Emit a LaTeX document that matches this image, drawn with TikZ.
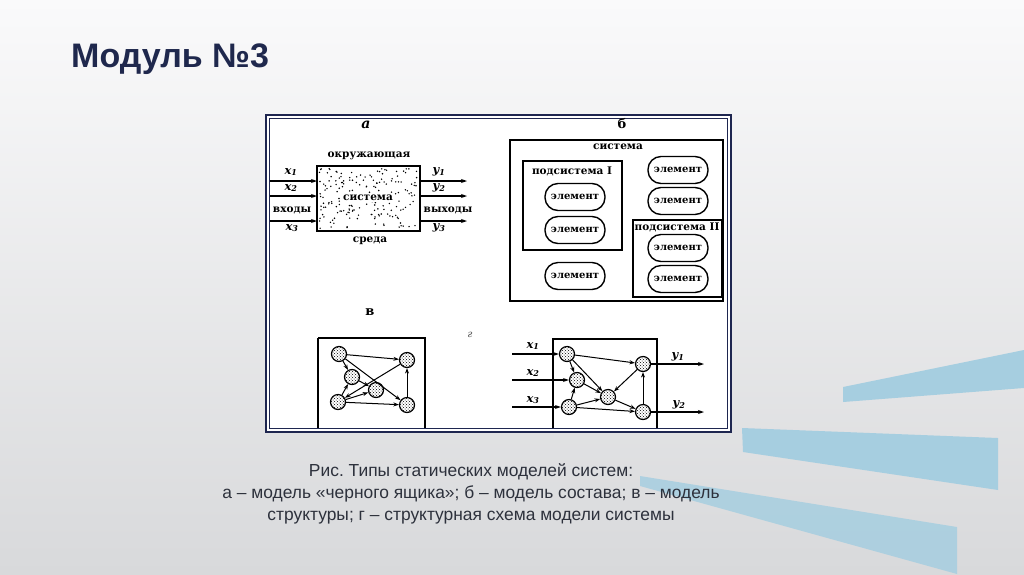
\documentclass[tikz,border=0pt]{standalone}
\usepackage{fontspec}
\setmainfont{Liberation Sans}
\newfontfamily\scanfont{DejaVu Serif}
\usetikzlibrary{arrows.meta,patterns}
\frenchspacing
\definecolor{navy}{RGB}{30,38,80}
\definecolor{titlecol}{RGB}{31,40,77}
\definecolor{capcol}{RGB}{45,49,60}
\definecolor{stripe}{RGB}{166,206,224}
\definecolor{bgtop}{RGB}{250,250,251}
\definecolor{bgbot}{RGB}{216,217,219}
\tikzset{
  elem/.style={draw, line width=1.4pt, rounded corners=13pt, minimum width=60pt, minimum height=27pt, inner sep=0pt, fill=white, font=\scanfont\bfseries\fontsize{10}{11}\selectfont},
  sbox/.style={draw, line width=1.3pt},
  lbl/.style={font=\scanfont\bfseries\fontsize{10.5}{11}\selectfont, inner sep=1pt},
  var/.style={font=\scanfont\itshape\bfseries\fontsize{11.5}{12}\selectfont, inner sep=0pt},
  gnode/.style={circle, draw, line width=1.2pt, minimum size=15pt, inner sep=0pt, pattern=crosshatch dots},
  garrow/.style={-{Stealth[length=5.5pt,width=4pt]}, line width=1pt},
  iarrow/.style={-{Stealth[length=6pt,width=4pt]}, line width=1.3pt},
  panel/.style={font=\scanfont\bfseries\fontsize{13}{14}\selectfont},
}
\begin{document}
\begin{tikzpicture}[x=1pt,y=-1pt]
\useasboundingbox (0,0) rectangle (1024,574);
% background
\shade[top color=bgtop, bottom color=bgbot] (0,0) rectangle (1024,574);
% stripes
\fill[stripe] (843,387) -- (1024,350) -- (1024,388) -- (843,402) -- cycle;
\fill[stripe] (742,428) -- (998,438) -- (998,490) -- (743,452) -- cycle;
\fill[stripe, opacity=0.85] (640,476) -- (957,527) -- (957,574) -- (640,486) -- cycle;
% title
\node[anchor=base west, font=\bfseries\fontsize{34}{38}\selectfont, text=titlecol, inner sep=0pt] (title) at (71,67) {Модуль №3};
% frame
\fill[white] (266,115) rectangle (731,432);
\draw[navy, line width=2.6pt] (266,115) rectangle (731,432);
\draw[navy, line width=1pt] (269.5,118.5) rectangle (727.5,428.5);

% ---------------- panel a
\node[panel, font=\scanfont\itshape\bfseries\fontsize{14}{15}\selectfont] (la) at (366,125) {а};
\draw[line width=1.4pt] (317,166) rectangle (420,231);
\pgfmathsetseed{11}
\foreach \i in {1,...,190}{
  \pgfmathsetmacro\rx{319.5+rnd*98}
  \pgfmathsetmacro\ry{168.5+rnd*60}
  \fill (\rx,\ry) circle (0.8);
}
\node (sys) [draw=none, line width=0pt, minimum width=103pt, minimum height=65pt] at (368.5,198.5) {};
\node[lbl, fill=white] (systxt) at (368,198) {система};
\node[lbl] (okr) at (369,156) {окружающая};
\node[lbl] (sreda) at (370,241) {среда};
\coordinate (i1) at (270,181);
\coordinate (i2) at (270,196);
\coordinate (i3) at (270,221);
\draw[iarrow] (i1) -- (i1 -| sys.west);
\draw[iarrow] (i2) -- (i2 -| sys.west);
\draw[iarrow] (i3) -- (i3 -| sys.west);
\coordinate (o1) at (467,181);
\coordinate (o2) at (467,196);
\coordinate (o3) at (467,221);
\draw[iarrow] (o1 -| sys.east) -- (o1);
\draw[iarrow] (o2 -| sys.east) -- (o2);
\draw[iarrow] (o3 -| sys.east) -- (o3);
\node[var] (x1) at (291,172) {x\textsubscript{1}};
\node[var] (x2) at (291,188) {x\textsubscript{2}};
\node[lbl] (vh) at (292,210) {входы};
\node[var] (x3) at (292,228) {x\textsubscript{3}};
\node[var] (y1) at (439,172) {y\textsubscript{1}};
\node[var] (y2) at (439,188) {y\textsubscript{2}};
\node[lbl] (vyh) at (448,210) {выходы};
\node[var] (y3) at (439,228) {y\textsubscript{3}};

% ---------------- panel b
\node[panel] (lb) at (622,124) {б};
\draw[sbox] (510,140) rectangle (723,301);
\node[lbl] (bsys) at (618,147) {система};
\draw[sbox] (523,161) rectangle (622,250);
\node[lbl] (ps1) at (572,171) {подсистема I};
\node[elem] (e1) at (575,197) {элемент};
\node[elem] (e2) at (575,230) {элемент};
\node[elem] (e3) at (678,170) {элемент};
\node[elem] (e4) at (678,201) {элемент};
\draw[sbox] (633,220) rectangle (722,297);
\node[lbl] (ps2) at (677,227) {подсистема II};
\node[elem] (e5) at (678,248) {элемент};
\node[elem] (e6) at (678,279) {элемент};
\node[elem] (e7) at (575,276) {элемент};

% ---------------- panel v
\node[panel] (lv) at (370,312) {в};
\draw[line width=1.2pt] (318,338) -- (318,428) (318,338) -- (425,338) -- (425,428);
\node[gnode] (vA) at (339,354) {};
\node[gnode] (vB) at (407,360) {};
\node[gnode] (vC) at (352,377) {};
\node[gnode] (vD) at (376,390) {};
\node[gnode] (vE) at (338,402) {};
\node[gnode] (vF) at (407,405) {};
\draw[garrow] (vA) -- (vB);
\draw[garrow] (vA) -- (vC);
\draw[garrow] (vA) -- (vF);
\draw[garrow] (vC) -- (vD);
\draw[garrow] (vE) -- (vC);
\draw[garrow] (vE) -- (vD);
\draw[garrow] (vB) -- (vE);
\draw[garrow] (vF) -- (vB);
\draw[garrow] (vE) -- (vF);

% ---------------- panel g
\node[font=\scanfont\itshape\fontsize{10}{11}\selectfont, text=black!65] (lg) at (470,335) {г};
\draw[line width=1.2pt] (553,428) -- (553,339) -- (657,339) -- (657,428);
\node[gnode] (gA) at (567,354) {};
\node[gnode] (gC) at (577,380) {};
\node[gnode] (gE) at (569,407) {};
\node[gnode] (gD) at (608,397) {};
\node[gnode] (gB) at (643,364) {};
\node[gnode] (gF) at (643,412) {};
\draw[garrow] (gA) -- (gB);
\draw[garrow] (gA) -- (gC);
\draw[garrow] (gA) -- (gD);
\draw[garrow] (gC) -- (gD);
\draw[garrow] (gE) -- (gC);
\draw[garrow] (gE) -- (gD);
\draw[garrow] (gD) -- (gF);
\draw[garrow] (gB) -- (gD);
\draw[garrow] (gF) -- (gB);
\draw[garrow] (gE) -- (gF);
\coordinate (gi1) at (512,354);
\coordinate (gi2) at (512,380);
\coordinate (gi3) at (512,407);
\draw[iarrow] (gi1) -- (gA);
\draw[iarrow] (gi2) -- (gC);
\draw[iarrow] (gi3) -- (gE);
\coordinate (go1) at (704,364);
\coordinate (go2) at (704,412);
\draw[iarrow] (gB) -- (go1);
\draw[iarrow] (gF) -- (go2);
\node[var] (gx1) at (533,346) {x\textsubscript{1}};
\node[var] (gx2) at (533,373) {x\textsubscript{2}};
\node[var] (gx3) at (533,400) {x\textsubscript{3}};
\node[var] (gy1) at (678,357) {y\textsubscript{1}};
\node[var] (gy2) at (679,405) {y\textsubscript{2}};

% caption
\node[align=center, text=capcol, font=\fontsize{17.4}{22}\selectfont, inner sep=0pt] (cap) at (471,494)
 {Рис. Типы статических моделей систем:\\
  а – модель «черного ящика»; б – модель состава; в – модель\\
  структуры; г – структурная схема модели системы};
\end{tikzpicture}
\end{document}
